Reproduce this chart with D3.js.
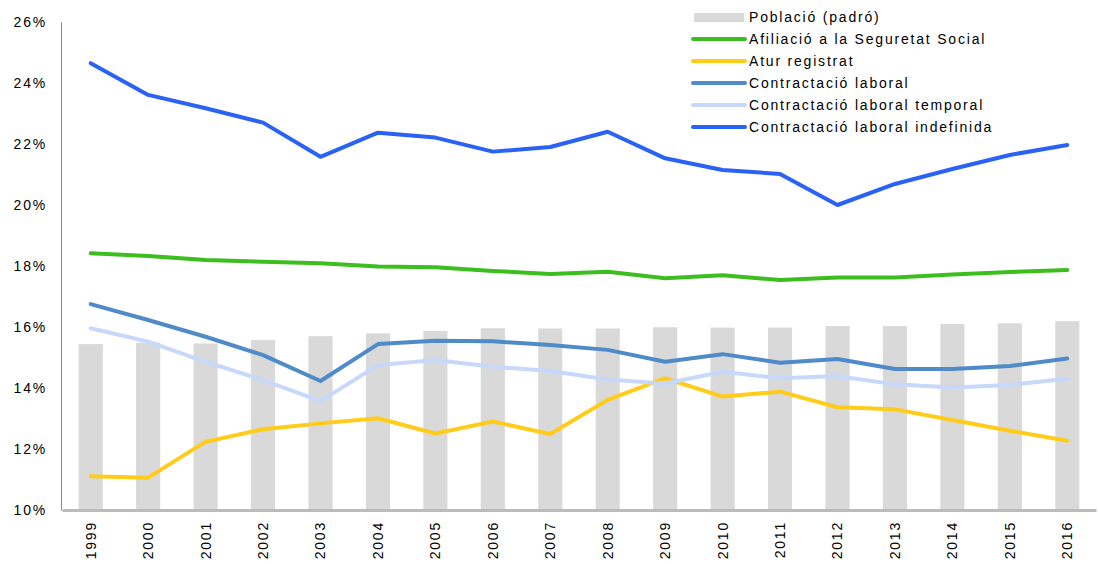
<!DOCTYPE html>
<html>
<head>
<meta charset="utf-8">
<script src="https://cdn.jsdelivr.net/npm/d3@7/dist/d3.min.js"></script>
<style>
  body { margin: 0; background: #fff; }
  text { font-family: "Liberation Sans", Arial, sans-serif; fill: #000; letter-spacing: 1.8px; }
</style>
</head>
<body>
<div id="chart"></div>
<script>
const width = 1098;
const height = 564;

const years = ["1999","2000","2001","2002","2003","2004","2005","2006","2007","2008",
  "2009","2010","2011","2012","2013","2014","2015","2016"];

const poblacio = [15.44, 15.49, 15.46, 15.57, 15.70, 15.79, 15.87, 15.96, 15.95, 15.95,
  15.99, 15.98, 15.98, 16.03, 16.03, 16.10, 16.12, 16.19];
const afiliacio = [18.42, 18.33, 18.20, 18.14, 18.09, 17.98, 17.96, 17.84, 17.74, 17.81,
  17.60, 17.70, 17.54, 17.62, 17.62, 17.72, 17.80, 17.87];
const atur = [11.11, 11.06, 12.24, 12.65, 12.84, 13.01, 12.51, 12.90, 12.49, 13.61,
  14.32, 13.72, 13.88, 13.37, 13.30, 12.95, 12.60, 12.27];
const contractacio = [16.75, 16.23, 15.68, 15.08, 14.23, 15.44, 15.55, 15.53, 15.41, 15.25,
  14.86, 15.11, 14.83, 14.95, 14.62, 14.62, 14.72, 14.97];
const temporal = [15.96, 15.52, 14.86, 14.26, 13.57, 14.75, 14.92, 14.70, 14.56, 14.28,
  14.15, 14.53, 14.32, 14.39, 14.12, 14.02, 14.10, 14.30];
const indefinida = [24.65, 23.61, 23.17, 22.70, 21.58, 22.37, 22.21, 21.75, 21.90, 22.40,
  21.53, 21.15, 21.02, 20.00, 20.69, 21.18, 21.64, 21.97];

const yTicks = [10, 12, 14, 16, 18, 20, 22, 24, 26];

const lineSeries = [
  { name: "Afiliació a la Seguretat Social", values: afiliacio, color: "#3cbf1e" },
  { name: "Atur registrat", values: atur, color: "#ffcc1a" },
  { name: "Contractació laboral", values: contractacio, color: "#4f8bc8" },
  { name: "Contractació laboral temporal", values: temporal, color: "#c8d8fa" },
  { name: "Contractació laboral indefinida", values: indefinida, color: "#2962f5" }
];

const margin = { left: 62, right: 2, top: 22, bottom: 54 };

const svg = d3.select("#chart")
  .append("svg")
  .attr("width", width)
  .attr("height", height);

const x = d3.scaleBand()
  .domain(years)
  .range([margin.left, width - margin.right])
  .paddingInner(0.58)
  .paddingOuter(0.29);

const xPoint = d => x(d) + x.bandwidth() / 2;

const y = d3.scaleLinear()
  .domain([10, 26])
  .range([height - margin.bottom, margin.top]);

// bars
svg.append("g")
  .selectAll("rect")
  .data(poblacio)
  .enter()
  .append("rect")
  .attr("x", (d, i) => x(years[i]))
  .attr("y", d => y(d))
  .attr("width", x.bandwidth())
  .attr("height", d => y(10) - y(d))
  .attr("fill", "#d9d9d9");

// y axis
const yAxis = svg.append("g")
  .attr("transform", `translate(${margin.left - 1},0)`)
  .call(d3.axisLeft(y).tickValues(yTicks).tickSize(0).tickPadding(14).tickFormat(d => d + "%"));
yAxis.select(".domain").attr("stroke", "#888").attr("stroke-width", 1);
yAxis.selectAll("text")
  .style("font-size", "14px")
  .style("font-family", "'Liberation Sans', Arial, sans-serif");

// x axis
const xAxis = svg.append("g")
  .attr("transform", `translate(0,${y(10)})`)
  .call(d3.axisBottom(x).tickSize(0).tickPadding(0));
xAxis.select(".domain").attr("stroke", "#bbb").attr("stroke-width", 3);
xAxis.selectAll("text")
  .style("font-size", "14px")
  .style("font-family", "'Liberation Sans', Arial, sans-serif")
  .attr("transform", "rotate(-90)")
  .attr("text-anchor", "end")
  .attr("x", -11)
  .attr("y", 0)
  .attr("dy", "0.35em");

// lines
const line = d3.line()
  .x((d, i) => xPoint(years[i]))
  .y(d => y(d));

svg.append("g")
  .selectAll("path")
  .data(lineSeries)
  .enter()
  .append("path")
  .attr("d", d => line(d.values))
  .attr("fill", "none")
  .attr("stroke", d => d.color)
  .attr("stroke-width", 4)
  .attr("stroke-linejoin", "round")
  .attr("stroke-linecap", "round");

// legend
const legend = svg.append("g").attr("transform", "translate(692,17)");
const legendItems = [{ name: "Població (padró)", color: "#d9d9d9", bar: true }].concat(lineSeries);
const rows = legend.selectAll("g")
  .data(legendItems)
  .enter()
  .append("g")
  .attr("transform", (d, i) => `translate(0,${i * 22})`);

rows.filter(d => d.bar)
  .append("rect")
  .attr("x", 2)
  .attr("y", -4)
  .attr("width", 50)
  .attr("height", 9)
  .attr("fill", d => d.color);

rows.filter(d => !d.bar)
  .append("line")
  .attr("x1", 1)
  .attr("x2", 53)
  .attr("stroke", d => d.color)
  .attr("stroke-width", 4)
  .attr("stroke-linecap", "round");

rows.append("text")
  .attr("x", 57)
  .attr("dy", "0.35em")
  .style("font-size", "14px")
  .text(d => d.name);
</script>
</body>
</html>
